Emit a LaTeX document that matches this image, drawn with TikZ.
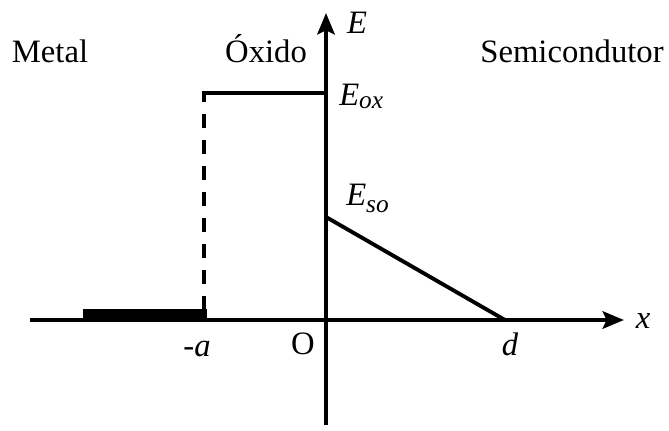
\documentclass[tikz,border=0pt]{standalone}
\usepackage{fontspec}
\setmainfont{Liberation Serif}
\usetikzlibrary{arrows.meta}
\begin{document}
\begin{tikzpicture}[x=0.75pt,y=-0.75pt,
  axis/.style={line width=3.2pt,-{Stealth[length=16pt,width=13pt,inset=3pt]}},
  curve/.style={line width=2.9pt},
  lbl/.style={inner sep=0pt,anchor=base,font=\fontsize{24.5}{28}\selectfont}]
\useasboundingbox (0,0) rectangle (669,430);
% coordinates
\coordinate (xs) at (30,320);
\coordinate (xe) at (624,320);
\coordinate (yb) at (326,425);
\coordinate (yt) at (326,13);
\coordinate (dtop) at (204,93);
\coordinate (dbot) at (204,310);
\coordinate (oxend) at (326,93);
\coordinate (so) at (326,217);
\coordinate (dd) at (505,320);
% metal bar
\fill (83,309) rectangle (207,321);
% axes
\draw[axis] (xs) -- (xe);
\draw[axis] (yb) -- (yt);
% oxide field
\draw[line width=2.7pt,dash pattern=on 10.5pt off 9pt] (dbot) -- (dtop);
\draw[curve] ([xshift=-1.3pt]dtop) -- (oxend);
% semiconductor field
\draw[curve] (so) -- (dd);
% labels
\node[lbl] (metal) at (50,62) {Metal};
\node[lbl] (oxido) at (266,62) {Óxido};
\node[lbl] (semi) at (572,62) {Semicondutor};
\node[lbl] (E) at (357,33) {\textit{E}};
\node[lbl,anchor=base west] (Eox) at (339,105) {\textit{E}\raisebox{-0.25ex}{\fontsize{19}{20}\selectfont\textit{ox}}};
\node[lbl,anchor=base west] (Eso) at (346,205) {\textit{E}\raisebox{-0.5ex}{\fontsize{19}{20}\selectfont\textit{so}}};
\node[lbl] (xl) at (643,328) {\textit{x}};
\node[lbl] (dl) at (510,355) {\textit{d}};
\node[lbl] (al) at (197,356) {\textit{-a}};
\node[lbl] (ol) at (303,354) {O};
\end{tikzpicture}
\end{document}
